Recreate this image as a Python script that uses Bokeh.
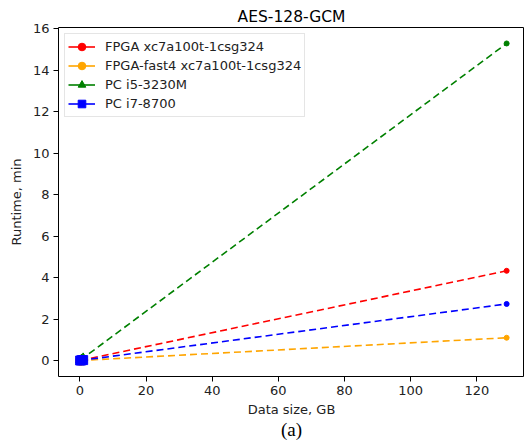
from bokeh.plotting import figure
from bokeh.models import Range1d, Legend, LegendItem, Title, FixedTicker
from bokeh.embed import file_html
from bokeh.resources import INLINE

# Data
sizes_gb = [0.1, 0.5, 1.0, 129.0]
fpga = [0.0034, 0.017, 0.034, 4.33]
fpga_fast4 = [0.0009, 0.0043, 0.0086, 1.10]
pc_i5 = [0.012, 0.059, 0.119, 15.30]
pc_i7 = [0.002, 0.011, 0.021, 2.73]

series_names = ["FPGA xc7a100t-1csg324", "FPGA-fast4 xc7a100t-1csg324", "PC i5-3230M", "PC i7-8700"]
series_values = [fpga, fpga_fast4, pc_i5, pc_i7]
series_colors = ["red", "orange", "green", "blue"]
series_markers = ["circle", "circle", "triangle", "square"]
x_ticks = [0, 20, 40, 60, 80, 100, 120]
y_ticks = [0, 2, 4, 6, 8, 10, 12, 14, 16]

FONT = "DejaVu Sans"

p = figure(width=524, height=440, output_backend="svg", toolbar_location=None,
           x_range=Range1d(-6.45, 134.4), y_range=Range1d(-0.77, 16.07),
           min_border_left=58, min_border_right=0, min_border_top=27, min_border_bottom=64)

p.title.text = "AES-128-GCM"
p.title.align = "center"
p.title.text_font = FONT
p.title.text_font_size = "15.5px"
p.title.text_font_style = "normal"
p.title.text_color = "black"
p.title.standoff = 4

p.add_layout(Title(text="(a)", align="center", text_font="Liberation Serif",
                   text_font_size="19px", text_font_style="normal", text_color="black",
                   standoff=-5), "below")

p.xgrid.visible = False
p.ygrid.visible = False
p.outline_line_color = "black"
p.outline_line_width = 1
p.background_fill_color = "white"
p.border_fill_color = "white"

for ax in (p.xaxis[0], p.yaxis[0]):
    ax.axis_line_color = None
    ax.major_tick_in = 0
    ax.major_tick_out = 5
    ax.minor_tick_line_color = None
    ax.major_tick_line_color = "black"
    ax.major_label_text_font = FONT
    ax.major_label_text_font_size = "13px"
    ax.major_label_text_color = "#222222"
    ax.axis_label_text_font = FONT
    ax.axis_label_text_font_size = "13px"
    ax.axis_label_text_font_style = "normal"
    ax.axis_label_text_color = "#222222"

p.xaxis.ticker = FixedTicker(ticks=x_ticks)
p.yaxis.ticker = FixedTicker(ticks=y_ticks)
p.xaxis.axis_label = "Data size, GB"
p.yaxis.axis_label = "Runtime, min"
p.xaxis.major_label_standoff = 4
p.xaxis.axis_label_standoff = 4
p.yaxis.major_label_standoff = 4
p.yaxis.axis_label_standoff = 6

items = []
for name, vals, col, mk in zip(series_names, series_values, series_colors, series_markers):
    ln = p.line(sizes_gb, vals, line_color=col, line_width=1.6, line_dash="7 4")
    p.scatter(sizes_gb[-1:], vals[-1:], marker="circle", size=5, color=col)
    sc = p.scatter(sizes_gb[:-1], vals[:-1], marker=mk, size=9, color=col)
    leg_line = p.line([sizes_gb[0]], [vals[0]], line_color=col, line_width=1.6)
    items.append(LegendItem(label=name, renderers=[leg_line, sc]))

legend = Legend(items=items, location="top_left")
legend.label_text_font = FONT
legend.label_text_font_size = "13px"
legend.label_text_color = "#222222"
legend.border_line_color = "#cccccc"
legend.border_line_width = 1
legend.padding = 3
legend.spacing = 0
legend.margin = 6
legend.label_height = 19
legend.glyph_height = 19
legend.glyph_width = 27
legend.label_standoff = 10
p.add_layout(legend)

open("out.html", "w").write(file_html(p, INLINE))
